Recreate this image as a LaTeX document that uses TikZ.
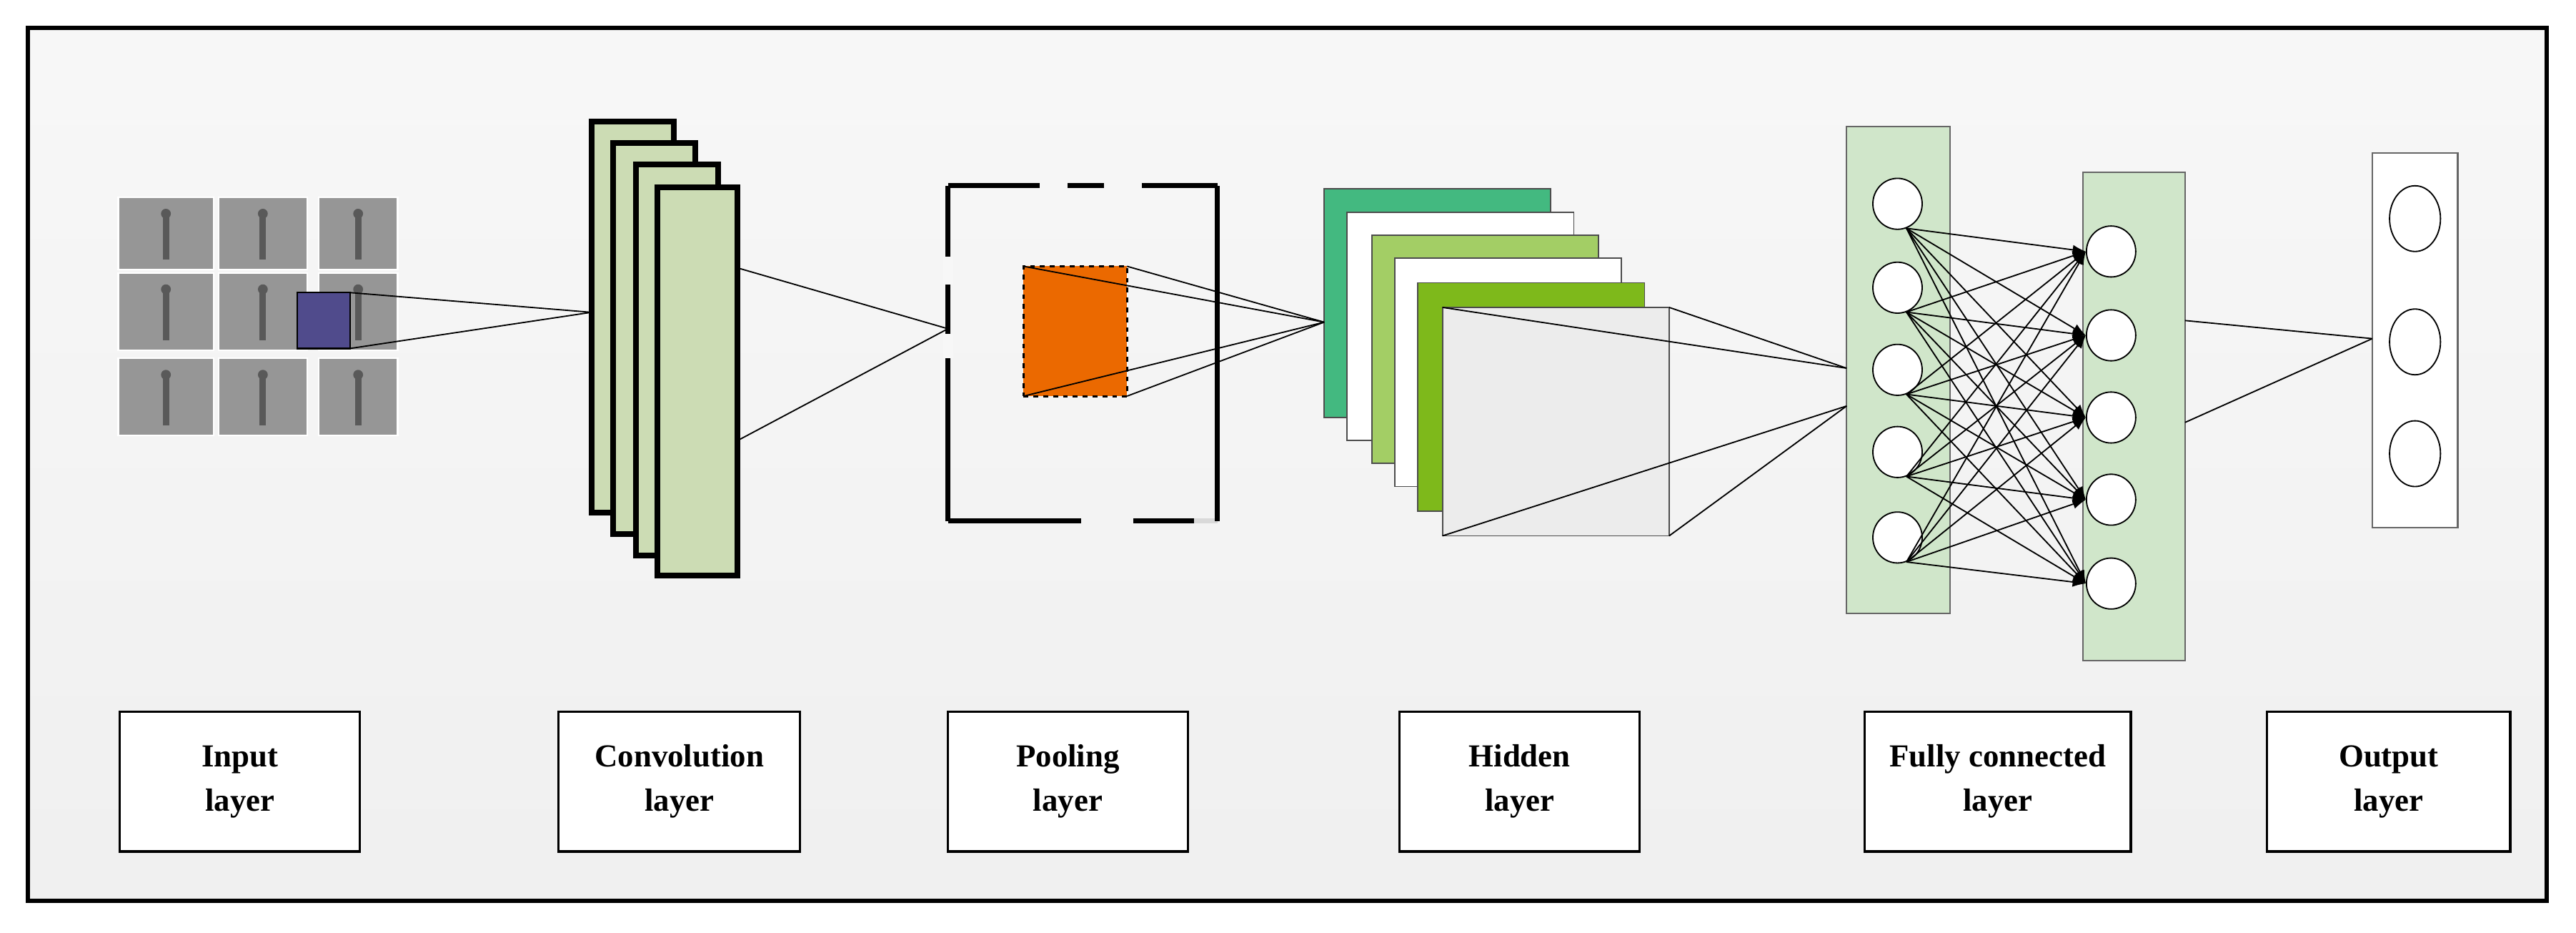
\documentclass[tikz,border=0pt]{standalone}
\usepackage{fontspec}
\setmainfont{Liberation Serif}
\usetikzlibrary{arrows.meta,calc,shapes.geometric}
\definecolor{convg}{RGB}{204,220,180}
\definecolor{fcg}{RGB}{208,230,202}
\definecolor{teal1}{RGB}{67,185,128}
\definecolor{lg1}{RGB}{163,206,101}
\definecolor{g1}{RGB}{126,185,27}
\definecolor{gray1}{RGB}{236,236,236}
\definecolor{orng}{RGB}{235,105,0}
\definecolor{blu}{RGB}{80,75,140}
\definecolor{imgg}{RGB}{150,150,150}
\begin{document}
\begin{tikzpicture}[x=1pt,y=-1pt,
  rb/.style={rectangle,inner sep=0pt,outer sep=0pt},
  conv/.style={rb,draw=black,line width=3.5pt,fill=convg},
  hid/.style={rb,draw=black!70,line width=0.8pt,minimum width=138pt,minimum height=139pt,anchor=north west},
  fc/.style={rb,draw=black!60,line width=0.9pt,fill=fcg},
  neu/.style={ellipse,draw=black,line width=0.8pt,fill=white,inner sep=0pt,minimum width=30pt,minimum height=31pt},
  oneu/.style={ellipse,draw=black,line width=0.8pt,fill=white,inner sep=0pt,minimum width=31pt,minimum height=40pt},
  lab/.style={rb,draw=black,line width=1.4pt,fill=white,minimum height=85pt,align=center,font=\fontsize{19.5}{27}\selectfont\bfseries},
  ln/.style={draw=black,line width=0.8pt},
  img/.style={rb,fill=imgg,draw=white,line width=1pt}]
\useasboundingbox (0,0) rectangle (1568,567.6);
\shade[top color=white!97!black,bottom color=white!94!black] (17,17) rectangle (1550,548);
\draw[line width=2.5pt] (17,17) rectangle (1550,548);
% input images
\foreach \x/\w [count=\i] in {72/58,133/54,194/48}{
  \foreach \y/\h [count=\j] in {120/44,166/47,218/47}{
    \node[img,minimum width=\w pt,minimum height=\h pt,anchor=north west] (im\i\j) at (\x,\y) {};
    \fill[black!65] ($(im\i\j.center)+(-2,-\h/2+10)$) rectangle ($(im\i\j.center)+(2,\h/2-6)$);
    \fill[black!65] ($(im\i\j.center)+(0,-\h/2+10)$) circle (3);
  }}
\node[rb,draw=black,line width=1pt,fill=blu,minimum width=32pt,minimum height=34pt,anchor=north west] (blue) at (181,178) {};
% conv
\node[conv,minimum width=50pt,minimum height=238pt,anchor=north west] (c1) at (360,74) {};
\node[conv,minimum width=50pt,minimum height=238pt,anchor=north west] (c2) at (373,87) {};
\node[conv,minimum width=50pt,minimum height=238pt,anchor=north west] (c3) at (387,100) {};
\node[conv,minimum width=49pt,minimum height=236pt,anchor=north west] (c4) at (400,114) {};
\coordinate (cin) at (360,190);
\draw[ln] (blue.north east) -- (cin);
\draw[ln] (blue.south east) -- (cin);
\coordinate (c4a) at (449,163);
\coordinate (c4b) at (449,268);
% pooling
\node[rb,minimum width=164pt,minimum height=204pt,anchor=north west] (pool) at (577,113) {};
\draw[line width=3pt] (pool.north west) -- (pool.south west);
\draw[line width=3pt] (pool.south west) -- (658,317);
\draw[line width=3pt] (690,317) -- (727,317);
\draw[line width=3pt,black!15] (727,317) -- (741,317);
\draw[line width=3pt] (pool.south east) -- (pool.north east);
\draw[line width=3pt] (pool.north west) -- (633,113);
\draw[line width=3pt] (650,113) -- (672,113);
\draw[line width=3pt] (695,113) -- (741,113);
\fill[white!97!black] (574,156) rectangle (580,173);
\fill[white!97!black] (574,203) rectangle (580,218);
\coordinate (pin) at (577,200);
\draw[ln] (c4a) -- (pin);
\draw[ln] (c4b) -- (pin);
\node[rb,fill=orng,draw=black,line width=1.3pt,dashed,minimum width=63pt,minimum height=79pt,anchor=north west] (or) at (623,162) {};
% hidden
\node[hid,fill=teal1] (h1) at (806,115) {};
\node[hid,fill=white] (h2) at (820,129) {};
\node[hid,fill=lg1] (h3) at (835,143) {};
\node[hid,fill=white] (h4) at (849,157) {};
\node[hid,fill=g1] (h5) at (863,172) {};
\node[hid,fill=gray1] (h6) at (878,187) {};
\coordinate (hin) at (806,196);
\foreach \a in {north west,north east,south west,south east} \draw[ln] (or.\a) -- (hin);
% fc
\node[fc,minimum width=63pt,minimum height=296pt,anchor=north west] (f1) at (1124,77) {};
\node[fc,minimum width=62pt,minimum height=297pt,anchor=north west] (f2) at (1268,105) {};
\node[rb,draw=black!60,line width=0.9pt,fill=white,minimum width=52pt,minimum height=228pt,anchor=north west] (f3) at (1444,93) {};
\coordinate (fa) at (1124,224);
\coordinate (fb) at (1124,247);
\draw[ln] (h6.north west) -- (fa);
\draw[ln] (h6.north east) -- (fa);
\draw[ln] (h6.south west) -- (fb);
\draw[ln] (h6.south east) -- (fb);
\foreach \y [count=\i] in {124,175,225,275,327} \node[neu] (a\i) at (1155,\y) {};
\foreach \y [count=\i] in {153,204,254,304,355} \node[neu] (b\i) at (1285,\y) {};
\foreach \y [count=\i] in {133,208,276} \node[oneu] (o\i) at (1470,\y) {};
\foreach \i in {1,...,5}{\foreach \j in {1,...,5}{
  \draw[ln,-{Latex[length=8pt,width=6pt]}] (a\i.-70) -- (b\j.west);}}
\coordinate (fo) at (1444,206);
\draw[ln] (1330,195) -- (fo);
\draw[ln] (1330,257) -- (fo);
% labels
\node[lab,minimum width=146pt,anchor=north west] (l1) at (73,433) {Input\\layer};
\node[lab,minimum width=147pt,anchor=north west] (l2) at (340,433) {Convolution\\layer};
\node[lab,minimum width=146pt,anchor=north west] (l3) at (577,433) {Pooling\\layer};
\node[lab,minimum width=146pt,anchor=north west] (l4) at (852,433) {Hidden\\layer};
\node[lab,minimum width=162pt,anchor=north west] (l5) at (1135,433) {Fully connected\\layer};
\node[lab,minimum width=148pt,anchor=north west] (l6) at (1380,433) {Output\\layer};
\end{tikzpicture}
\end{document}
